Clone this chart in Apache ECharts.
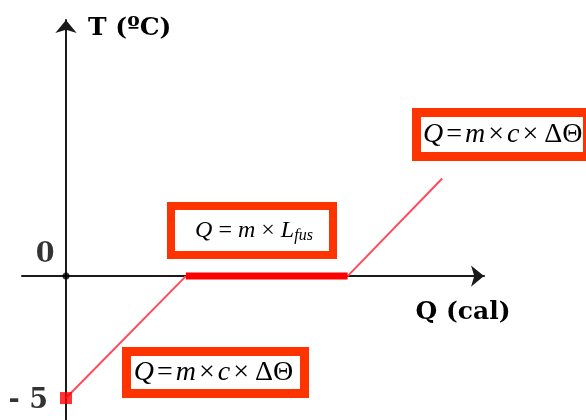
<!DOCTYPE html>
<html>
<head>
<meta charset="utf-8">
<style>
  html, body { margin: 0; padding: 0; background: #fff; }
  #chart { width: 586px; height: 420px; }
</style>
<script src="https://cdn.jsdelivr.net/npm/echarts@6/dist/echarts.min.js"></script>
</head>
<body>
<div id="chart"></div>
<script>
// Heating curve of ice: warming, melting plateau, warming of the water
const Q_VALUES = [0, 5.45, 12.8, 17.1];   // heat supplied (arbitrary units along Q)
const T_VALUES = [-5, 0, 0, 4];           // temperature in ºC
const ORIGIN_LABEL = '0';
const START_LABEL = '- 5';

const X_NAME = 'Q (cal)';
const Y_NAME = 'T (ºC)';

const RED = '#ff0000';
const LINE_RED = '#ff4b5c';
const BOX_RED = '#ff3300';
const AXIS = '#1a1a1a';
const BOLD_FONT = '"DejaVu Serif", serif';
const MATH_FONT = '"Liberation Serif", "Times New Roman", serif';

function seg(i, j) {
  const out = [];
  for (let k = i; k <= j; k++) out.push([Q_VALUES[k], T_VALUES[k]]);
  return out;
}

const chart = echarts.init(document.getElementById('chart'), null, { renderer: 'canvas' });

function formulaBox(x, y, w, h, lw, textSpec) {
  return {
    type: 'group',
    children: [
      {
        type: 'rect',
        shape: { x: x, y: y, width: w, height: h },
        style: { fill: '#fff', stroke: BOX_RED, lineWidth: lw },
        z: 10
      },
      Object.assign({ type: 'text', z: 11 }, textSpec)
    ]
  };
}

const heatRich = {
  i: { fontFamily: MATH_FONT, fontStyle: 'italic', fontSize: 28, color: '#000', lineHeight: 30 },
  n: { fontFamily: MATH_FONT, fontSize: 28, color: '#000', lineHeight: 30, padding: [0, 3, 0, 3] }
};
const heatText = '{i|Q}{n|=}{i|m}{n|×}{i|c}{n|×}{n|ΔΘ}';

const titleStyle = { fontFamily: BOLD_FONT, fontWeight: 'bold', fontSize: 25, color: '#000' };
const numberStyle = { fontFamily: BOLD_FONT, fontWeight: 'bold', fontSize: 27, color: '#000', textBorderWidth: 0 };

const option = {
  backgroundColor: '#fff',
  animation: false,
  grid: { left: 22, right: 102, top: 20, bottom: 0, containLabel: false, outerBoundsMode: 'none' },
  xAxis: {
    type: 'value',
    min: -2,
    max: 19,
    name: '{t|' + X_NAME + '}',
    nameLocation: 'end',
    nameGap: -21,
    nameTextStyle: {
      align: 'center', verticalAlign: 'middle',
      rich: { t: Object.assign({ padding: [72, 0, 0, 0] }, titleStyle) }
    },
    axisLine: {
      onZero: true,
      symbol: ['none', 'arrow'],
      symbolSize: [16, 13],
      lineStyle: { color: AXIS, width: 2 }
    },
    axisTick: { show: false },
    axisLabel: { show: false },
    splitLine: { show: false }
  },
  yAxis: {
    type: 'value',
    min: -5.9,
    max: 10.5,
    name: '{t|' + Y_NAME + '}',
    nameLocation: 'end',
    nameGap: -8,
    nameTextStyle: {
      align: 'left', verticalAlign: 'middle',
      rich: { t: Object.assign({ padding: [0, 0, 0, 22] }, titleStyle) }
    },
    axisLine: {
      onZero: true,
      symbol: ['none', 'arrow'],
      symbolSize: [16, 13],
      lineStyle: { color: AXIS, width: 2 }
    },
    axisTick: { show: false },
    axisLabel: { show: false },
    splitLine: { show: false }
  },
  series: [
    {
      name: 'aquecimento do gelo',
      type: 'line',
      data: seg(0, 1),
      symbol: 'none',
      lineStyle: { color: LINE_RED, width: 2 },
      z: 3
    },
    {
      name: 'fusão',
      type: 'line',
      data: seg(1, 2),
      symbol: 'none',
      lineStyle: { color: RED, width: 7, cap: 'butt' },
      z: 4
    },
    {
      name: 'aquecimento da água',
      type: 'line',
      data: seg(2, 3),
      symbol: 'none',
      lineStyle: { color: LINE_RED, width: 2 },
      z: 3
    },
    {
      name: 'origem',
      type: 'scatter',
      data: [[0, 0]],
      symbol: 'circle',
      symbolSize: 7,
      itemStyle: { color: '#000' },
      label: {
        show: true,
        formatter: ORIGIN_LABEL,
        position: 'left',
        distance: 8,
        offset: [0, -21],
        ...numberStyle
      },
      z: 5
    },
    {
      name: 'início',
      type: 'scatter',
      data: [[Q_VALUES[0], T_VALUES[0]]],
      symbol: 'rect',
      symbolSize: 12,
      itemStyle: { color: RED },
      label: {
        show: true,
        formatter: START_LABEL,
        position: 'left',
        distance: 12,
        offset: [0, 3],
        ...numberStyle
      },
      z: 5
    }
  ],
  graphic: [
    // Q = m × L_fus (melting)
    formulaBox(171, 206, 162, 49, 8, {
      style: {
        x: 254, y: 231,
        text: '{i|Q}{n| = }{i|m}{n| × }{i|L}{s|fus}',
        align: 'center', verticalAlign: 'middle',
        rich: {
          i: { fontFamily: MATH_FONT, fontStyle: 'italic', fontSize: 24, color: '#000', lineHeight: 26, verticalAlign: 'middle' },
          n: { fontFamily: MATH_FONT, fontSize: 24, color: '#000', lineHeight: 26, verticalAlign: 'middle' },
          s: { fontFamily: MATH_FONT, fontStyle: 'italic', fontSize: 16, color: '#000', lineHeight: 15, verticalAlign: 'bottom' }
        }
      }
    }),
    // Q = m × c × ΔΘ (water warming)
    formulaBox(416.5, 112.5, 171, 44, 9, {
      style: {
        x: 423, y: 135,
        text: heatText,
        align: 'left', verticalAlign: 'middle',
        rich: heatRich
      }
    }),
    // Q = m × c × ΔΘ (ice warming)
    formulaBox(126.5, 351.5, 178, 42, 9, {
      style: {
        x: 215, y: 373,
        text: heatText,
        align: 'center', verticalAlign: 'middle',
        rich: heatRich
      }
    })
  ]
};

chart.setOption(option);
</script>
</body>
</html>
